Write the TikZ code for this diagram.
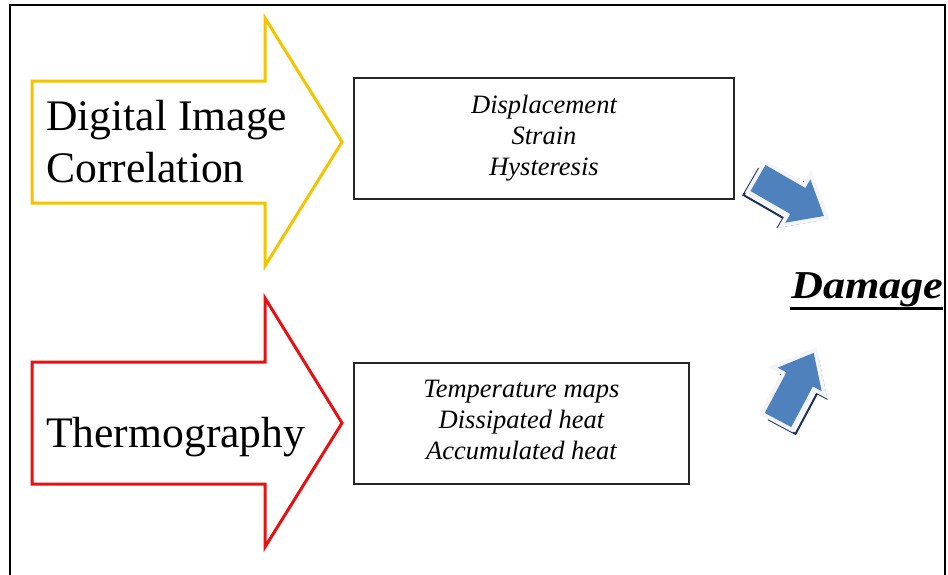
\documentclass[tikz,border=0pt]{standalone}
\usepackage{fontspec}
\setmainfont{Liberation Serif}
\begin{document}
\begin{tikzpicture}[x=1pt,y=-1pt,
  frameline/.style={draw=black,line width=2.2pt},
  bigarrow/.style={line width=3pt,line join=miter},
  bigtext/.style={font=\fontsize{43.6}{52}\selectfont,inner sep=0pt,anchor=base west},
  listbox/.style={draw=black!85,line width=1.4pt,fill=white,align=center,
     font=\fontsize{26.5}{31}\selectfont\itshape,inner sep=0pt},
  blueshape/.pic={
    \draw[draw={rgb,255:red,28;green,50;blue,92},line width=2pt,line join=miter,shift={(-4,7)}]
      (0,-15) -- (46,-15) -- (46,-25) -- (76,0) -- (46,25) -- (46,15) -- (0,15) -- cycle;
    \filldraw[fill=white,draw={rgb,255:red,242;green,244;blue,249},line width=8pt,line join=miter]
      (0,-15) -- (46,-15) -- (46,-25) -- (76,0) -- (46,25) -- (46,15) -- (0,15) -- cycle;
    \fill[fill={rgb,255:red,79;green,129;blue,189}]
      (0,-15) -- (46,-15) -- (46,-25) -- (76,0) -- (46,25) -- (46,15) -- (0,15) -- cycle;
  }]
\definecolor{dicyellow}{RGB}{244,196,0}
\definecolor{thred}{RGB}{232,16,16}
\useasboundingbox (0,0) rectangle (948,574);
\fill[white] (0,0) rectangle (948,574);
% outer frame (bottom edge lies below the picture)
\draw[frameline] (10,590) -- (10,5) -- (945,5) -- (945,590);

% big outline arrows
\draw[bigarrow,draw=dicyellow,fill=white]
  (32,81) -- (265,81) -- (265,18) -- (342,142) -- (265,266) -- (265,203) -- (32,203) -- cycle;
\draw[bigarrow,draw=thred,fill=white]
  (32,362) -- (265,362) -- (265,298) -- (342,423) -- (265,547) -- (265,484) -- (32,484) -- cycle;

\node[bigtext] (dic1) at (46,130) {Digital Image};
\node[bigtext] (dic2) at (46,182) {Correlation};
\node[bigtext] (thermo) at (46,447) {Thermography};

% result boxes
\node[listbox,minimum width=380pt,minimum height=121pt] (dicbox) at (544,138.5)
  {Displacement\\Strain\\Hysteresis};
\node[listbox,minimum width=335pt,minimum height=121pt,text depth=8pt] (thbox) at (521.5,423.5)
  {Temperature maps\\Dissipated heat\\Accumulated heat};

% blue 3-D arrows
\pic[rotate=-30] at (758,178) {blueshape};
\pic[rotate=62] at (778,420) {blueshape};

% Damage
\node[inner sep=0pt,anchor=base west,xscale=1.12,
  font=\fontsize{39.5}{44}\selectfont\bfseries\itshape] (damage) at (791,298) {Damage};
\draw[line width=3pt] (790,308) -- (943,308);
\end{tikzpicture}
\end{document}
